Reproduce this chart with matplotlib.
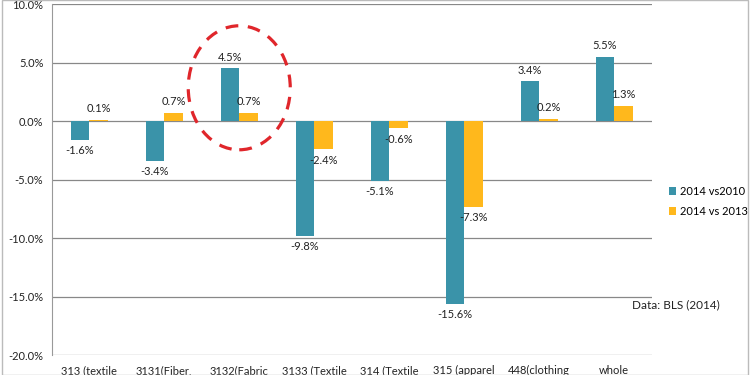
import numpy as np
import matplotlib.pyplot as plt
from matplotlib.patches import Ellipse, Rectangle

categories = ['313 (textile', '3131(Fiber,', '3132(Fabric', '3133 (Textile',
              '314 (Textile', '315 (apparel', '448(clothing', 'whole']
vs2010 = [-1.6, -3.4, 4.5, -9.8, -5.1, -15.6, 3.4, 5.5]
vs2013 = [0.1, 0.7, 0.7, -2.4, -0.6, -7.3, 0.2, 1.3]
series_names = ['2014 vs2010', '2014 vs 2013']
yticks = [-20, -15, -10, -5, 0, 5, 10]

plt.rcParams['font.family'] = ['Lato', 'DejaVu Sans']
teal = '#3a93a9'
gold = '#ffb81c'

fig = plt.figure(figsize=(7.5, 3.75), dpi=100)
ax = fig.add_axes([0.069, 0.053, 0.8, 0.936])

x = np.arange(len(categories))
w = 0.25
b1 = ax.bar(x - w/2, vs2010, w, color=teal, label=series_names[0], zorder=3)
b2 = ax.bar(x + w/2, vs2013, w, color=gold, label=series_names[1], zorder=3)

for bars, vals in [(b1, vs2010), (b2, vs2013)]:
    for rect, v in zip(bars, vals):
        cx = rect.get_x() + rect.get_width()/2
        if v >= 0:
            ax.annotate('%.1f%%' % v, (cx, v), xytext=(0, 4), textcoords='offset points',
                        ha='center', va='bottom', fontsize=8, color='#222222')
        else:
            ax.annotate('%.1f%%' % v, (cx, v), xytext=(0, -4), textcoords='offset points',
                        ha='center', va='top', fontsize=8, color='#222222')

ax.set_xlim(-0.5, len(categories) - 0.5)
ax.set_ylim(-20, 10)
ax.set_yticks(yticks)
ax.set_yticklabels(['%.1f%%' % t for t in yticks], fontsize=8, color='#222222')
ax.set_xticks(x)
ax.set_xticklabels(categories, fontsize=8, color='#222222')
ax.tick_params(length=0, pad=6)
ax.tick_params(axis='x', pad=7)
ax.grid(axis='y', color='#888888', linewidth=0.9, zorder=0)
for s in ['top', 'right', 'bottom']:
    ax.spines[s].set_visible(False)
ax.spines['left'].set_color('#999999')

ax.add_patch(Ellipse((2, 2.85), 1.36, 10.6, fill=False, edgecolor='#e0262b',
                     linestyle=(0, (4, 3)), linewidth=2.3, zorder=4))

fig.legend(handles=[b1, b2], loc='upper left', bbox_to_anchor=(0.878, 0.53),
           frameon=False, fontsize=8, handlelength=0.7, handleheight=0.7,
           handletextpad=0.3, labelspacing=0.75)
fig.text(0.843, 0.178, 'Data: BLS (2014)', fontsize=8.5, color='#222222')

fig.patches.append(Rectangle((0.002, 0.0), 0.995, 1.0, transform=fig.transFigure,
                             fill=False, edgecolor='#bbbbbb', linewidth=1))

fig.savefig('out.png', dpi=100)
